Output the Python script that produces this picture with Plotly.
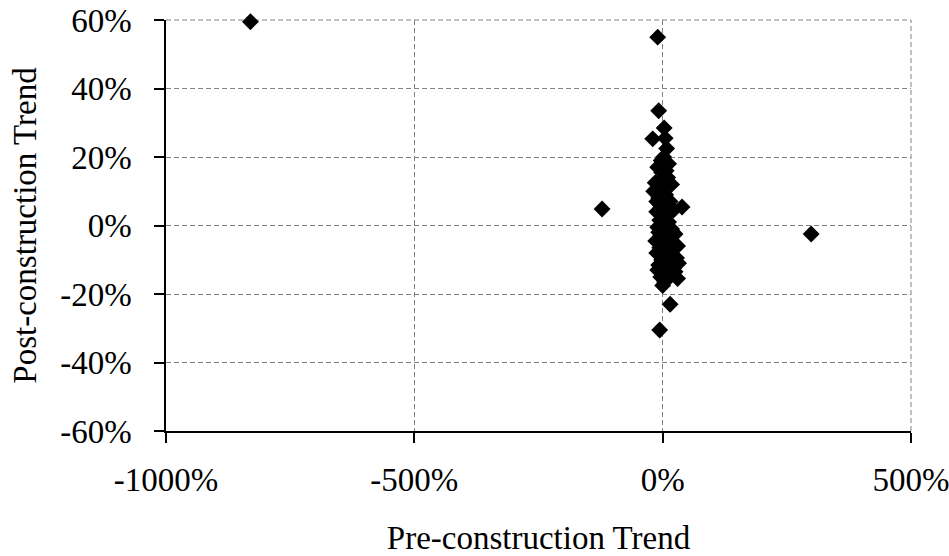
import plotly.graph_objects as go

# Pre-construction trend (%), post-construction trend (%)
pre_trend = [-830, -122, 299, 39,
             -10, -8, 3, -20, 5, 8, 2, 12, -10, -2, 10, -15, 18, -18, 0, 6,
             -8, 15, -5, 2, 22, -12, 8, 0, -6, 12, 4, -10, 18, 0, 25, -4,
             10, -14, 2, 30, -6, 14, -12, 5, 28, -2, 20, -8, 8, 25, -10, 0,
             30, 12, 4, 0, 15, -6,
             -3, 7, -6, 3, -12, 10, 0, -3, 6, -8, 15, -2, 8, 18, -4, 22, 32]
post_trend = [59.5, 4.8, -2.5, 5.4,
              55, 33.5, 28.5, 25.3, 25.5, 22.5, 20, 18, 17, 15.5, 14, 12.5, 12, 10, 11, 9,
              8, 7, 6, 5.5, 4.5, 4, 3, 2.5, 1.5, 1, 0, -0.5, -1, -1.5, -2.5, -3,
              -3.5, -4.5, -5, -6, -6.5, -7.5, -8, -8.5, -9.5, -10, -11, -11.5, -12.5, -13.5, -13, -14,
              -15.5, -15, -16.5, -17.5, -23, -30.5,
              19, 16, 13, 12, 7, 6, 7.5, 3.5, -1, -2, -5, -7, -9.5, -7, -15, -12.5, -11]

x_ticks = [-1000, -500, 0, 500]
x_labels = ["-1000%", "-500%", "0%", "500%"]
y_ticks = [-60, -40, -20, 0, 20, 40, 60]
y_labels = ["-60%", "-40%", "-20%", "0%", "20%", "40%", "60%"]

font = dict(family="Liberation Serif, Times New Roman, serif", size=33, color="black")
grid_color = "#808080"
grid_dash = "5px,3px"

fig = go.Figure(go.Scatter(
    x=pre_trend, y=post_trend, mode="markers",
    marker=dict(symbol="diamond", size=13, color="black"),
    cliponaxis=False,
    hoverinfo="x+y",
))

axis_common = dict(
    showgrid=True, gridcolor=grid_color, griddash=grid_dash, gridwidth=1,
    showline=True, linecolor="black", linewidth=1.5,
    ticks="outside", ticklen=10, tickcolor="black", tickwidth=1.5,
    zeroline=False, tickfont=font, mirror=False, automargin=False,
    ticklabeloverflow="allow",
)

fig.update_layout(
    width=949, height=556,
    margin=dict(l=166, r=38, t=20, b=125),
    paper_bgcolor="white", plot_bgcolor="white",
    showlegend=False,
    font=font,
    xaxis=dict(range=[-1000, 500], tickvals=x_ticks, ticktext=x_labels,
               title=dict(text="Pre-construction Trend", font=font, standoff=40),
               ticklabelstandoff=9, **axis_common),
    yaxis=dict(range=[-60, 60], tickvals=y_ticks, ticktext=y_labels,
               title=dict(text="Post-construction Trend", font=font, standoff=14),
               ticklabelstandoff=16, **axis_common),
)

# dashed gridlines along the top and right edges of the plot area
fig.add_shape(type="line", xref="paper", yref="paper", x0=0, x1=1, y0=1, y1=1,
              line=dict(color=grid_color, width=1, dash=grid_dash), layer="below")
fig.add_shape(type="line", xref="paper", yref="paper", x0=1, x1=1, y0=0, y1=1,
              line=dict(color=grid_color, width=1, dash=grid_dash), layer="below")

fig.write_html("out.html")
